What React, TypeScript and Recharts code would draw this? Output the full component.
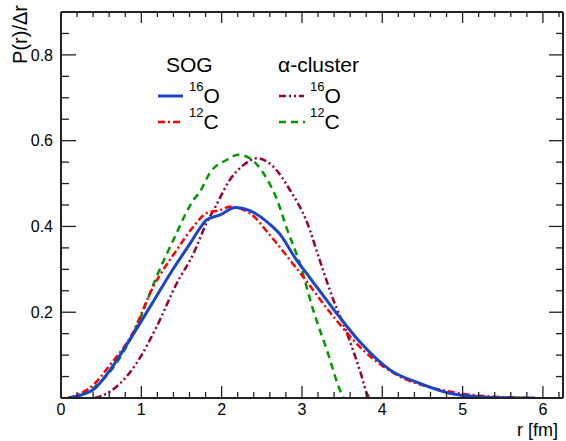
import React from "react";
import { LineChart, Line, XAxis, YAxis } from "recharts";

// SOG 16O
const sog16Or = [0.09, 0.4, 0.61, 0.88, 1.11, 1.4, 1.61, 1.73, 1.81, 1.98, 2.17, 2.35, 2.6, 2.73, 2.91, 3.12, 3.43, 3.72, 4.1, 4.47, 4.84, 5.3, 5.9];
const sog16Ov = [0, 0.019, 0.065, 0.143, 0.213, 0.302, 0.361, 0.396, 0.415, 0.427, 0.444, 0.437, 0.405, 0.381, 0.328, 0.275, 0.198, 0.131, 0.065, 0.034, 0.011, 0.002, 0];

// SOG 12C
const sog12Cr = [0.09, 0.4, 0.61, 0.88, 1.15, 1.44, 1.65, 1.81, 1.98, 2.1, 2.35, 2.6, 2.85, 2.98, 3.39, 3.76, 4.22, 4.64, 5.0, 5.4, 5.92];
const sog12Cv = [0, 0.03, 0.077, 0.147, 0.26, 0.345, 0.4, 0.431, 0.438, 0.446, 0.431, 0.38, 0.322, 0.291, 0.19, 0.112, 0.05, 0.023, 0.01, 0.003, 0];

// alpha-cluster 16O
const ac16Or = [0.42, 0.61, 0.94, 1.19, 1.44, 1.65, 1.81, 1.92, 2.1, 2.27, 2.44, 2.64, 2.85, 3.06, 3.22, 3.39, 3.56, 3.72, 3.83, 3.85];
const ac16Ov = [0, 0.015, 0.081, 0.166, 0.267, 0.337, 0.407, 0.445, 0.508, 0.543, 0.559, 0.54, 0.485, 0.411, 0.322, 0.229, 0.151, 0.065, 0.003, 0];

// alpha-cluster 12C
const ac12Cr = [0.12, 0.4, 0.61, 0.94, 1.19, 1.4, 1.65, 1.73, 1.85, 2.06, 2.21, 2.35, 2.52, 2.69, 2.81, 2.98, 3.14, 3.31, 3.49, 3.52];
const ac12Cv = [0, 0.023, 0.061, 0.166, 0.283, 0.369, 0.462, 0.481, 0.524, 0.555, 0.567, 0.559, 0.524, 0.462, 0.396, 0.31, 0.205, 0.112, 0.011, 0];

const xMajor = [0, 1, 2, 3, 4, 5, 6];
const yMajor = [0.2, 0.4, 0.6, 0.8];

const xTicks = Array.from({ length: 32 }, (_, i) => +(i * 0.2).toFixed(2));
const yTicks = Array.from({ length: 18 }, (_, i) => +(i * 0.05).toFixed(2));

const toPts = (r: number[], v: number[]) => r.map((x, i) => ({ r: x, v: v[i] }));

const FONT = "'Liberation Sans', Arial, Helvetica, sans-serif";
const AXIS = "#222";

const isMajor = (v: number, list: number[]) => list.some((m) => Math.abs(m - v) < 1e-6);

const BottomTick = (p: any) => {
  const major = isMajor(p.payload.value, xMajor);
  return (
    <g>
      <line x1={p.x} x2={p.x} y1={p.y} y2={p.y - (major ? 12 : 6)} stroke={AXIS} strokeWidth={1.3} />
      {major && (
        <text x={p.x} y={p.y + 17} textAnchor="middle" fontSize={16} fontFamily={FONT} fill="#000">
          {p.payload.value}
        </text>
      )}
    </g>
  );
};

const TopTick = (p: any) => {
  const major = isMajor(p.payload.value, xMajor);
  return <line x1={p.x} x2={p.x} y1={p.y} y2={p.y + (major ? 11 : 5)} stroke={AXIS} strokeWidth={1.3} />;
};

const LeftTick = (p: any) => {
  const val = p.payload.value;
  const major = isMajor(val, yMajor) || Math.abs(val) < 1e-6;
  const label = isMajor(val, yMajor);
  return (
    <g>
      <line x1={p.x} x2={p.x + (major ? 15 : 8)} y1={p.y} y2={p.y} stroke={AXIS} strokeWidth={1.3} />
      {label && (
        <text x={p.x - 8} y={p.y} dy="0.36em" textAnchor="end" fontSize={16} fontFamily={FONT} fill="#000">
          {val.toFixed(1)}
        </text>
      )}
    </g>
  );
};

const RightTick = (p: any) => {
  const val = p.payload.value;
  const major = isMajor(val, yMajor) || Math.abs(val) < 1e-6;
  return <line x1={p.x} x2={p.x - (major ? 14 : 7)} y1={p.y} y2={p.y} stroke={AXIS} strokeWidth={1.3} />;
};

const LegendOverlay = () => (
  <svg width={566} height={441} style={{ position: "absolute", left: 0, top: 0, pointerEvents: "none" }}>
    <g fontFamily={FONT} fill="#000">
      <text x={166} y={72} fontSize={21}>SOG</text>
      <text x={278} y={72} fontSize={21}>α-cluster</text>

      <line x1={158} x2={183} y1={96} y2={96} stroke="#1a44cc" strokeWidth={3} />
      <text x={189} y={103} fontSize={21}><tspan fontSize={13} dy={-12}>16</tspan><tspan dy={12}>O</tspan></text>
      <line x1={158} x2={183} y1={122} y2={122} stroke="#ff0000" strokeWidth={2.5} strokeDasharray="7 3 2 3" />
      <text x={189} y={129} fontSize={21}><tspan fontSize={13} dy={-12}>12</tspan><tspan dy={12}>C</tspan></text>

      <line x1={279} x2={304} y1={96} y2={96} stroke="#99003a" strokeWidth={2.5} strokeDasharray="7 3 2 3 2 3" />
      <text x={310} y={103} fontSize={21}><tspan fontSize={13} dy={-12}>16</tspan><tspan dy={12}>O</tspan></text>
      <line x1={279} x2={305} y1={122} y2={122} stroke="#009900" strokeWidth={2.5} strokeDasharray="7 5" />
      <text x={310} y={129} fontSize={21}><tspan fontSize={13} dy={-12}>12</tspan><tspan dy={12}>C</tspan></text>
    </g>
    <text x={27} y={5} transform="rotate(-90 27 5)" textAnchor="end" fontSize={20} fontFamily={FONT} fill="#000">
      P(r)/Δr
    </text>
    <text x={558} y={436} textAnchor="end" fontSize={18} fontFamily={FONT} fill="#000">
      r [fm]
    </text>
  </svg>
);

export default function App() {
  return (
    <div style={{ position: "absolute", left: 0, top: 0, width: 566, height: 441, background: "#fff" }}>
      <LineChart width={566} height={441} margin={{ top: 11, right: 2, bottom: 42, left: 60 }}>
        <XAxis
          xAxisId="b"
          type="number"
          dataKey="r"
          domain={[0, 6.25]}
          ticks={xTicks}
          interval={0}
          height={1}
          tickSize={0}
          tickMargin={0}
          tick={<BottomTick />}
          axisLine={{ stroke: AXIS, strokeWidth: 2 }}
          allowDataOverflow
        />
        <XAxis
          xAxisId="t"
          orientation="top"
          type="number"
          dataKey="r"
          domain={[0, 6.25]}
          ticks={xTicks}
          interval={0}
          height={1}
          tickSize={0}
          tickMargin={0}
          tick={<TopTick />}
          axisLine={{ stroke: AXIS, strokeWidth: 2 }}
          allowDataOverflow
        />
        <YAxis
          yAxisId="l"
          type="number"
          domain={[0, 0.9]}
          ticks={yTicks}
          interval={0}
          width={1}
          tickSize={0}
          tickMargin={0}
          tick={<LeftTick />}
          axisLine={{ stroke: AXIS, strokeWidth: 2 }}
          allowDataOverflow
        />
        <YAxis
          yAxisId="r"
          orientation="right"
          type="number"
          domain={[0, 0.9]}
          ticks={yTicks}
          interval={0}
          width={1}
          tickSize={0}
          tickMargin={0}
          tick={<RightTick />}
          axisLine={{ stroke: AXIS, strokeWidth: 2 }}
          allowDataOverflow
        />
        <Line xAxisId="b" yAxisId="l" data={toPts(ac16Or, ac16Ov)} dataKey="v" type="monotone" stroke="#99003a" strokeWidth={2.5} strokeDasharray="7 3 2 3 2 3" dot={false} isAnimationActive={false} />
        <Line xAxisId="b" yAxisId="l" data={toPts(ac12Cr, ac12Cv)} dataKey="v" type="monotone" stroke="#009900" strokeWidth={2.5} strokeDasharray="7 5" dot={false} isAnimationActive={false} />
        <Line xAxisId="b" yAxisId="l" data={toPts(sog12Cr, sog12Cv)} dataKey="v" type="monotone" stroke="#ff0000" strokeWidth={2.5} strokeDasharray="7 3 2 3" dot={false} isAnimationActive={false} />
        <Line xAxisId="b" yAxisId="l" data={toPts(sog16Or, sog16Ov)} dataKey="v" type="monotone" stroke="#1a44cc" strokeWidth={3} dot={false} isAnimationActive={false} />
      </LineChart>
      <LegendOverlay />
    </div>
  );
}
